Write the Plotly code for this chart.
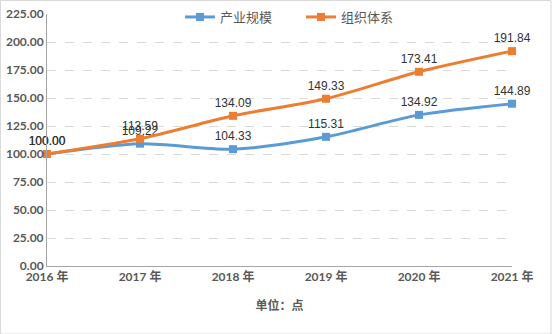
import plotly.graph_objects as go

years = ["2016 年", "2017 年", "2018 年", "2019 年", "2020 年", "2021 年"]
industry_scale = [100.00, 109.22, 104.33, 115.31, 134.92, 144.89]
org_system = [100.00, 113.59, 134.09, 149.33, 173.41, 191.84]
y_ticks = [0, 25, 50, 75, 100, 125, 150, 175, 200, 225]

xs = list(range(len(years)))
font_fam = "Lato, 'Noto Sans CJK SC', sans-serif"
label_fam = "'Liberation Sans', Arial, sans-serif"

fig = go.Figure()
fig.add_trace(go.Scatter(
    x=xs, y=industry_scale, name="产业规模", mode="lines+markers+text",
    line=dict(color="#5B9BD5", width=3, shape="spline", smoothing=0.8),
    marker=dict(symbol="square", size=8, color="#5B9BD5"),
    text=[f"{v:.2f}" for v in industry_scale], textposition="top center",
    textfont=dict(size=12, color="#333333", family=label_fam),
))
fig.add_trace(go.Scatter(
    x=xs, y=org_system, name="组织体系", mode="lines+markers+text",
    line=dict(color="#ED7D31", width=3, shape="spline", smoothing=0.8),
    marker=dict(symbol="square", size=8, color="#ED7D31"),
    text=[f"{v:.2f}" for v in org_system], textposition="top center",
    textfont=dict(size=12, color="#333333", family=label_fam),
))

fig.update_layout(
    width=552, height=334,
    margin=dict(l=47, r=40, t=14, b=68, autoexpand=False),
    paper_bgcolor="white", plot_bgcolor="white",
    font=dict(family=font_fam, color="#595959", size=12),
    showlegend=True,
    legend=dict(orientation="h", x=180/552, xanchor="left", xref="container",
                y=1 - 17/334, yanchor="middle", yref="container",
                font=dict(size=13, color="#595959"), bgcolor="rgba(0,0,0,0)",
                entrywidth=76, entrywidthmode="pixels"),
    xaxis=dict(
        range=[0, 5], tickmode="array", tickvals=xs, ticktext=years,
        showgrid=False, showline=True, linecolor="#A6A6A6", linewidth=1,
        ticks="", zeroline=False, automargin=False,
        tickfont=dict(size=12, color="#595959", family=font_fam, weight="bold"),
        title=dict(text="单位：点", font=dict(size=12, color="#595959", weight="bold"),
                   standoff=18),
    ),
    yaxis=dict(
        range=[0, 225], tickmode="array", tickvals=y_ticks,
        tickformat=".2f", showgrid=True, gridcolor="#D9D9D9", griddash="dash",
        gridwidth=1, showline=True, linecolor="#A6A6A6", linewidth=1,
        ticks="", zeroline=False, automargin=False,
        tickfont=dict(size=12, color="#595959", family=font_fam, weight="bold"),
    ),
    shapes=[dict(type="rect", xref="paper", yref="paper",
                 x0=-47/465 + 0.001, x1=1 + 39/465, y0=-68/252, y1=1 + 13.5/252,
                 line=dict(color="#D9D9D9", width=1), layer="below")],
)
fig.update_traces(cliponaxis=False)

fig.write_html("out.html")
